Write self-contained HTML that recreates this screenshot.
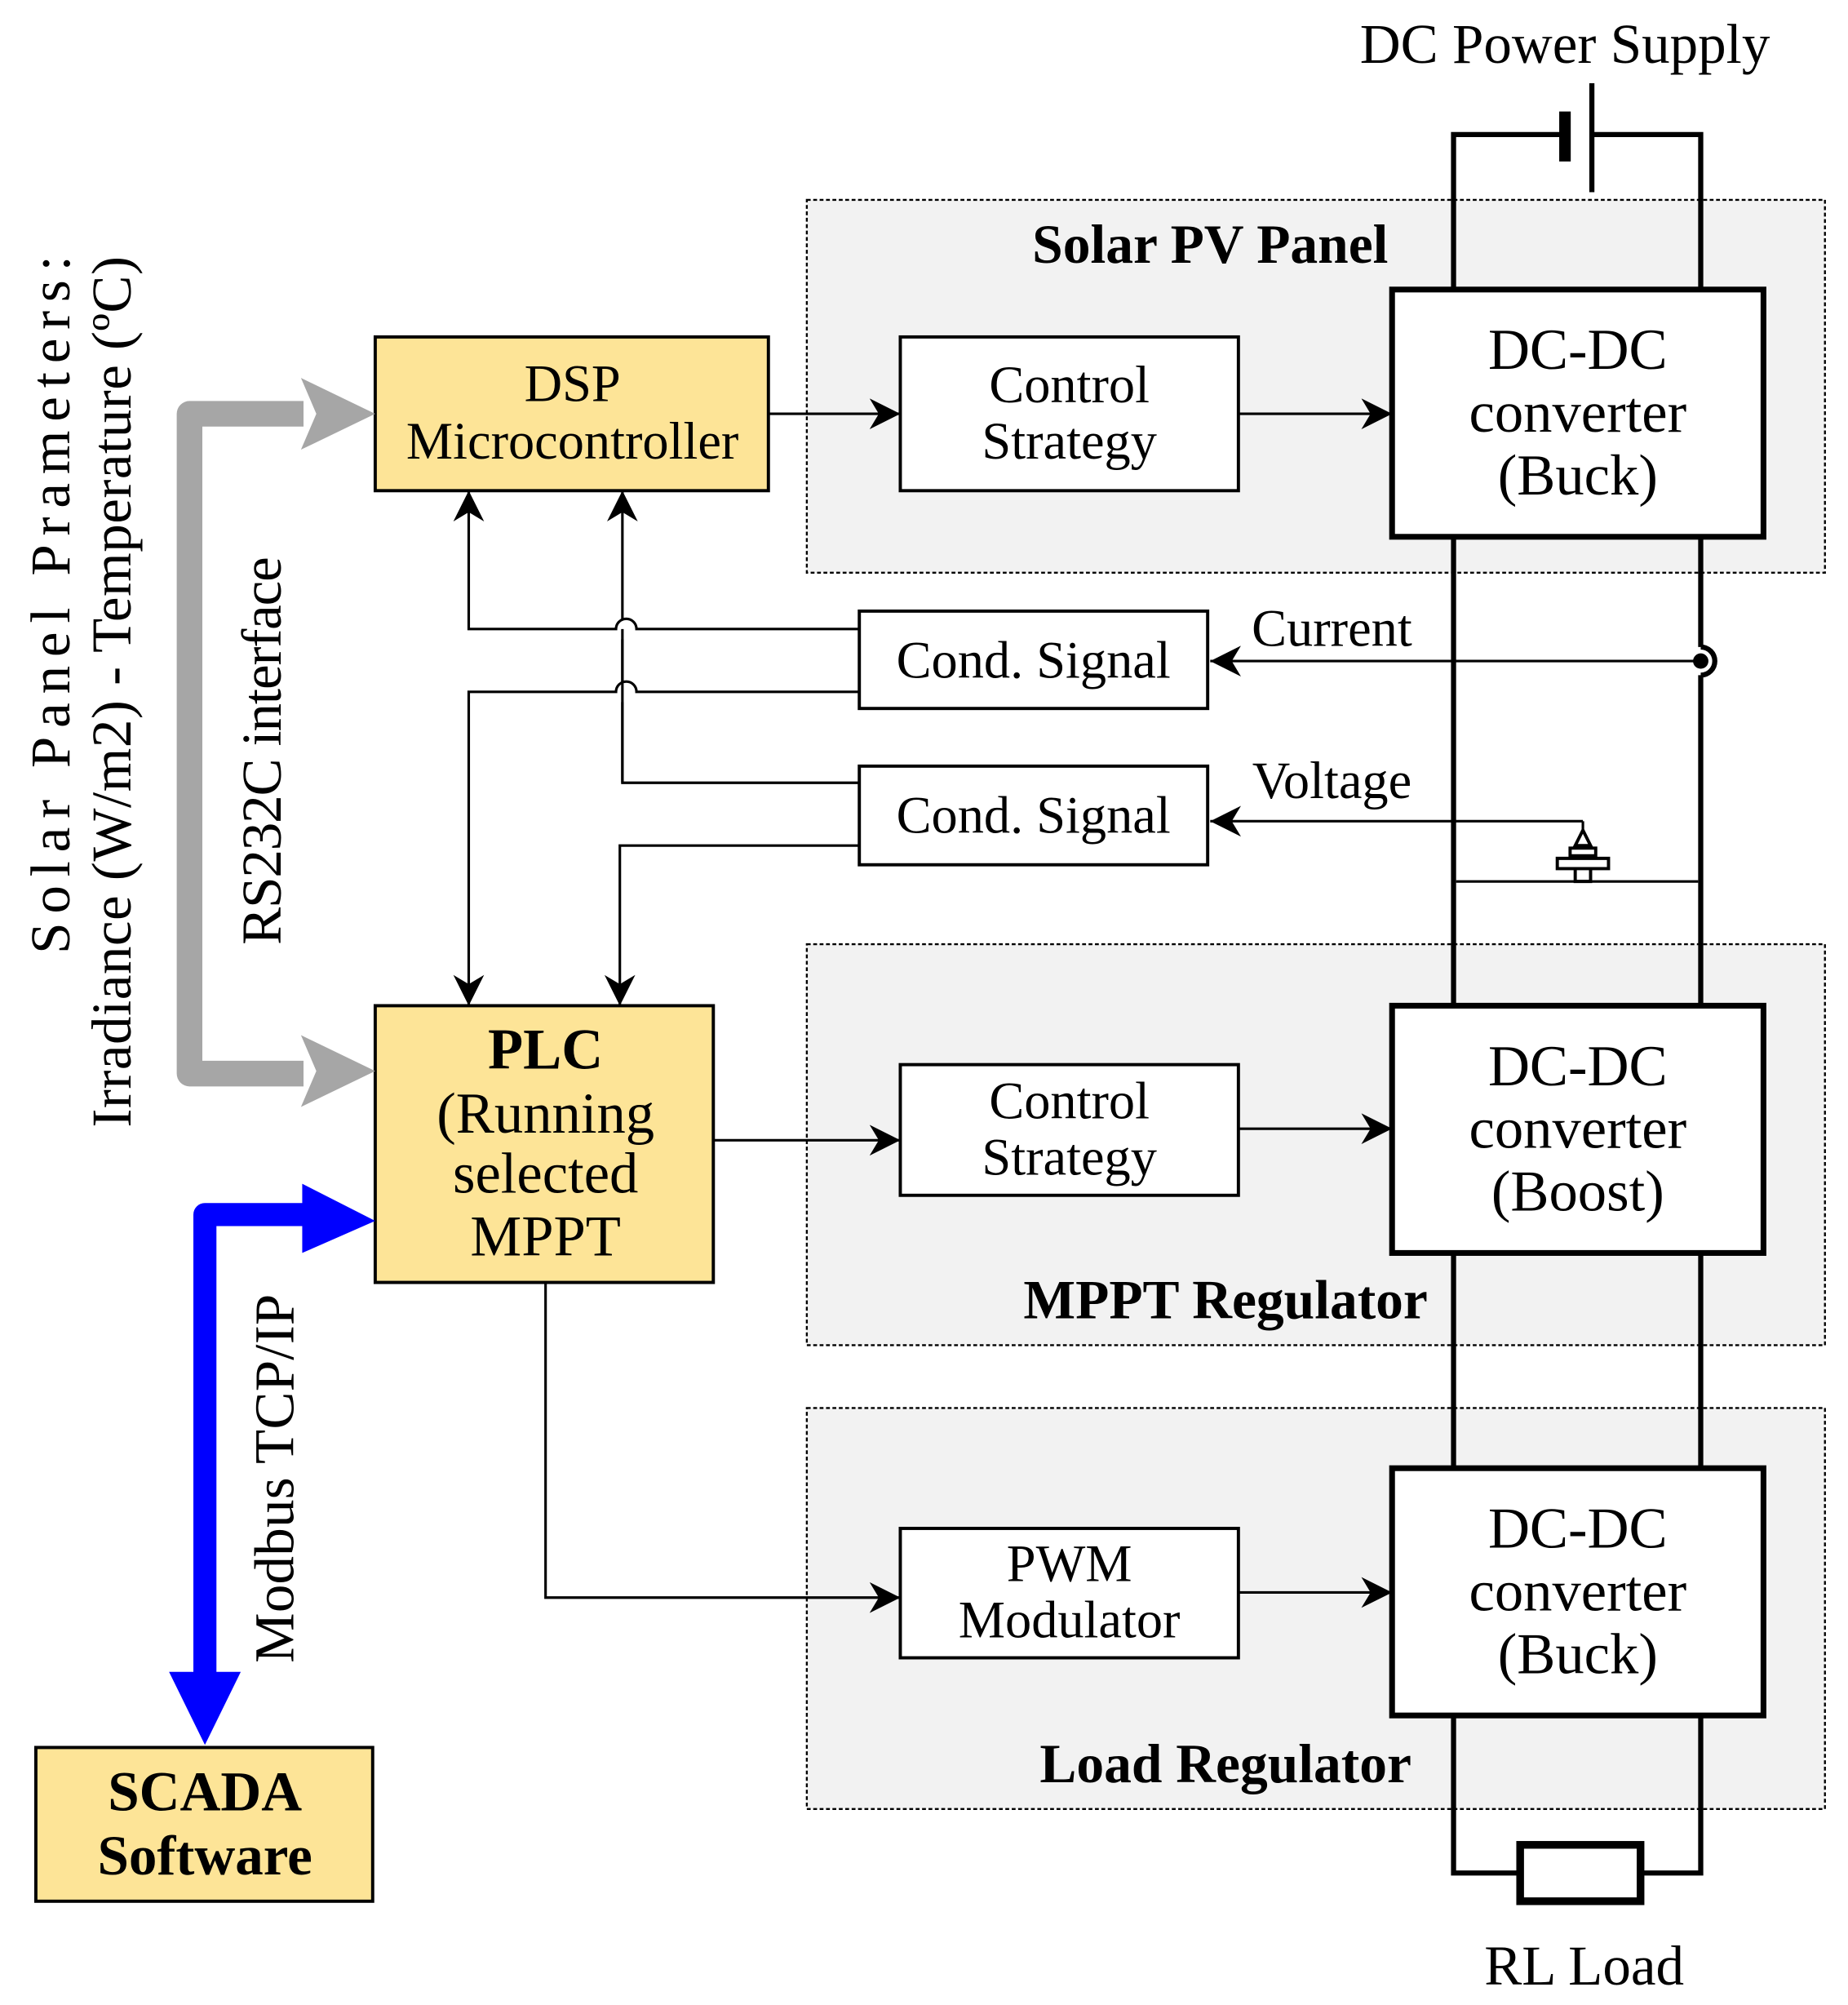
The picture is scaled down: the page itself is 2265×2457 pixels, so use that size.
<!DOCTYPE html>
<html><head><meta charset="utf-8"><style>html,body{margin:0;padding:0;background:#fff}svg{display:block}</style></head>
<body>
<svg width="2265" height="2457" viewBox="0 0 1443 1565" preserveAspectRatio="none" xmlns="http://www.w3.org/2000/svg" font-family="Liberation Serif, serif">
<defs>
<marker id="ab" viewBox="0 0 10 10" refX="10" refY="5" markerWidth="24" markerHeight="24" markerUnits="userSpaceOnUse" orient="auto"><path d="M0,0 L10,5 L0,10 L3,5 z" fill="#000"/></marker>
</defs>
<g fill="#f2f2f2" stroke="#000" stroke-width="1.5" stroke-dasharray="3,2">
<rect x="630" y="156" width="795" height="291"/>
<rect x="630" y="737" width="795" height="313"/>
<rect x="630" y="1099" width="795" height="313"/>
</g>
<g font-weight="bold" font-size="43" text-anchor="middle">
<text x="945" y="205">Solar PV Panel</text>
<text x="957" y="1029">MPPT Regulator</text>
<text x="957" y="1391">Load Regulator</text>
</g>
<g stroke="#000" stroke-width="4" fill="none">
<path d="M1135,226 V105 H1222 M1242,105 H1328 V226"/>
<path d="M1135,419 V785 M1328,419 V505 M1328,527 V785"/>
<path d="M1328,505 A11,11 0 0 1 1328,527"/>
<path d="M1135,978 V1146 M1328,978 V1146"/>
<path d="M1135,1339 V1462 H1187 M1281,1462 H1328 V1339"/>
<rect x="1187" y="1440" width="94" height="44" fill="#fff" stroke-width="6"/>
</g>
<line x1="1222" y1="87" x2="1222" y2="126" stroke="#000" stroke-width="9"/>
<line x1="1243" y1="65" x2="1243" y2="150" stroke="#000" stroke-width="4"/>
<text x="1222" y="49" font-size="44" text-anchor="middle">DC Power Supply</text>
<text x="1237" y="1549" font-size="44" text-anchor="middle">RL Load</text>
<g stroke="#000" stroke-width="2" fill="none">
<path d="M1137,688 H1326"/>
<path d="M1236,641 V660"/>
<path d="M1236,641 H945" marker-end="url(#ab)"/>
<path d="M1328,516 H945" marker-end="url(#ab)"/>
</g>
<path d="M1236,648 L1230,660 H1242 Z M1226,662 H1246 V668 H1226 Z M1216,670 H1256 V678 H1216 Z M1230,678 H1242 V688 H1230 Z" fill="#fff" stroke="#000" stroke-width="2.5"/>
<circle cx="1328" cy="516" r="6" fill="#000"/>
<g stroke="#000" stroke-width="2.5">
<rect x="293" y="263" width="307" height="120" fill="#fde497"/>
<rect x="293" y="785" width="264" height="216" fill="#fde497"/>
<rect x="28" y="1364" width="263" height="120" fill="#fde497"/>
<rect x="703" y="263" width="264" height="120" fill="#fff"/>
<rect x="703" y="831" width="264" height="102" fill="#fff"/>
<rect x="703" y="1193" width="264" height="101" fill="#fff"/>
<rect x="671" y="477" width="272" height="76" fill="#fff"/>
<rect x="671" y="598" width="272" height="77" fill="#fff"/>
</g>
<g stroke="#000" stroke-width="4.5" fill="#fff">
<rect x="1087" y="226" width="290" height="193"/>
<rect x="1087" y="785" width="290" height="193"/>
<rect x="1087" y="1146" width="290" height="193"/>
</g>
<g font-size="41" text-anchor="middle">
<text x="447" y="313">DSP</text><text x="447" y="358">Microcontroller</text>
<text x="835" y="314">Control</text><text x="835" y="358">Strategy</text>
<text x="835" y="873">Control</text><text x="835" y="917">Strategy</text>
<text x="835" y="1234">PWM</text><text x="835" y="1278">Modulator</text>
<text x="807" y="529">Cond. Signal</text><text x="807" y="650">Cond. Signal</text>
<text x="1040" y="504">Current</text><text x="1040" y="623">Voltage</text>
<g font-size="45">
<text x="1232" y="288">DC-DC</text><text x="1232" y="337">converter</text><text x="1232" y="386">(Buck)</text>
<text x="1232" y="847">DC-DC</text><text x="1232" y="896">converter</text><text x="1232" y="945">(Boost)</text>
<text x="1232" y="1208">DC-DC</text><text x="1232" y="1257">converter</text><text x="1232" y="1306">(Buck)</text>
<text x="426" y="834" font-weight="bold">PLC</text><text x="426" y="884">(Running</text><text x="426" y="931">selected</text><text x="426" y="980">MPPT</text>
</g>
<g font-size="44" font-weight="bold">
<text x="160" y="1413">SCADA</text><text x="160" y="1463">Software</text>
</g>
</g>
<g stroke="#000" stroke-width="2" fill="none">
<path d="M600,323 H703" marker-end="url(#ab)"/>
<path d="M967,323 H1087" marker-end="url(#ab)"/>
<path d="M557,890 H703" marker-end="url(#ab)"/>
<path d="M967,881 H1087" marker-end="url(#ab)"/>
<path d="M967,1243 H1087" marker-end="url(#ab)"/>
<path d="M426,1001 V1247 H703" marker-end="url(#ab)"/>
<path d="M671,491 H497 A8,8 0 0 0 481,491 H366 V383" marker-end="url(#ab)"/>
<path d="M671,540 H497 A8,8 0 0 0 481,540 H366 V785" marker-end="url(#ab)"/>
<path d="M671,611 H486 V491 M486,483 V383" marker-end="url(#ab)"/>
<path d="M486,499 V532 M486,548 V611"/>
<path d="M671,660 H484 V785" marker-end="url(#ab)"/>
</g>
<path d="M237,323 H148 V838 H237" stroke="#a6a6a6" stroke-width="20" fill="none" stroke-linejoin="round"/>
<path d="M235,295 L293,323 L235,351 L247,323 z M235,808 L293,836 L235,864 L247,836 z" fill="#a6a6a6"/>
<path d="M245,948 H160 V1310" stroke="#0000ff" stroke-width="18" fill="none" stroke-linejoin="round"/>
<path d="M236,924 L293,953 L236,978 z M132,1305 L160,1362 L188,1305 z" fill="#0000ff"/>
<g font-size="44" text-anchor="middle">
<text transform="translate(54,472) rotate(-90)" textLength="545" lengthAdjust="spacing">Solar Panel Prameters:</text>
<text transform="translate(102,540) rotate(-90)" textLength="680" lengthAdjust="spacing">Irradiance (W/m2) - Temperature (ºC)</text>
<text transform="translate(219,586) rotate(-90)" textLength="303" lengthAdjust="spacing">RS232C interface</text>
<text transform="translate(229,1154) rotate(-90)" textLength="288" lengthAdjust="spacing">Modbus TCP/IP</text>
</g>
</svg>
</body></html>
